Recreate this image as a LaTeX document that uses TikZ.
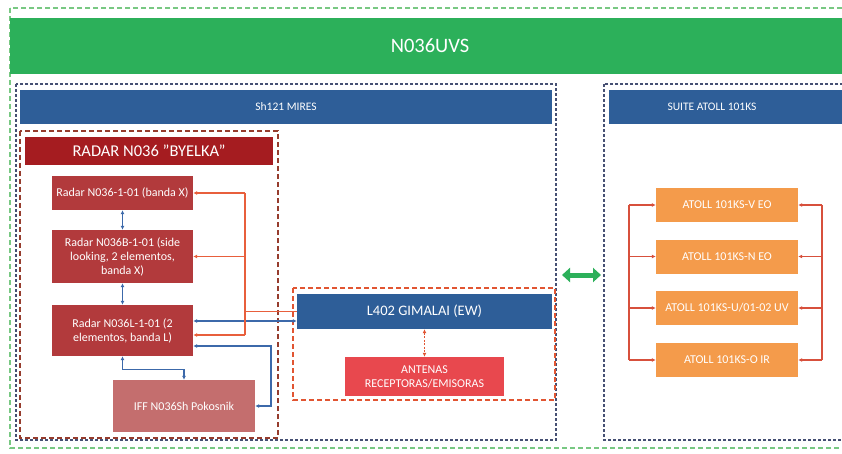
\documentclass[tikz,border=0pt]{standalone}
\usepackage{fontspec}
\setmainfont{Carlito}
\usetikzlibrary{arrows.meta}
\definecolor{gbar}{RGB}{44,176,90}
\definecolor{gdash}{RGB}{120,200,130}
\definecolor{bbar}{RGB}{46,94,152}
\definecolor{bdash}{RGB}{70,80,115}
\definecolor{dred}{RGB}{165,28,32}
\definecolor{rbox}{RGB}{178,58,60}
\definecolor{ibox}{RGB}{196,110,110}
\definecolor{abox}{RGB}{232,72,78}
\definecolor{obox}{RGB}{244,155,75}
\definecolor{oline}{RGB}{232,95,60}
\definecolor{bline}{RGB}{60,105,170}
\definecolor{rdash}{RGB}{150,60,45}
\definecolor{ldash}{RGB}{225,85,50}
\definecolor{aline}{RGB}{215,80,60}
\begin{document}
\begin{tikzpicture}[x=1pt,y=-1pt,
  box/.style={fill=#1, draw=none, text=white, align=center, inner sep=1pt},
  small/.style={font=\fontsize{12}{14}\selectfont},
  bdbl/.style={draw=bline, line width=1.2pt, {Latex[length=4pt,width=4pt]}-{Latex[length=4pt,width=4pt]}},
  oarr/.style={draw=oline, line width=1.1pt, -{Latex[length=4pt,width=4pt]}},
  oln/.style={draw=oline, line width=1.1pt},
  aarr/.style={draw=aline, line width=1.1pt, -{Latex[length=4pt,width=4pt]}},
  aln/.style={draw=aline, line width=1.1pt},
]
\useasboundingbox (0,0) rectangle (842,454);
\fill[white] (0,0) rectangle (842,454);
% outer frame
\draw[gdash, line width=1.6pt, dash pattern=on 5pt off 3pt] (10,8) rectangle (870,448);
\fill[gbar] (10,18) rectangle (870,74);
\node[text=white, font=\fontsize{20.5}{24}\selectfont] (title) at (430,46) {N036UVS};
% Sh121 frame
\draw[bdash, line width=1.3pt, dash pattern=on 3pt off 2pt] (16,84) rectangle (556,440);
\node[box=bbar, minimum width=532, minimum height=34, font=\fontsize{11.5}{14}\selectfont] (sh) at (286,107) {Sh121 MIRES};
% Suite frame
\draw[bdash, line width=1.3pt, dash pattern=on 3pt off 2pt] (604,84) rectangle (870,440);
\fill[bbar] (609,90) rectangle (870,124);
\node[text=white, font=\fontsize{11.5}{14}\selectfont] (suite) at (712,107) {SUITE ATOLL 101KS};
% radar frame
\draw[rdash, line width=1.8pt, dash pattern=on 5pt off 3pt] (20,131) rectangle (278,438);
\node[box=dred, minimum width=248, minimum height=28, font=\fontsize{16.5}{19}\selectfont] (rad) at (149,151) {RADAR N036 \symbol{34}BYELKA\symbol{34}};
\node[box=rbox, minimum width=141, minimum height=34, small] (r1) at (122.5,193) {Radar N036-1-01 (banda X)};
\node[box=rbox, minimum width=141, minimum height=53, small] (r2) at (122.5,256.5) {Radar N036B-1-01 (side\\looking, 2 elementos,\\banda X)};
\node[box=rbox, minimum width=141, minimum height=51, small] (r3) at (122.5,330.5) {Radar N036L-1-01 (2\\elementos, banda L)};
\node[box=ibox, minimum width=142, minimum height=52, small] (iff) at (184,406) {IFF N036Sh Pokosnik};
% L402 frame
\draw[ldash, line width=1.5pt, dash pattern=on 5pt off 3pt] (293,288) rectangle (555,400);
\node[box=bbar, minimum width=255, minimum height=35, font=\fontsize{14.5}{17}\selectfont] (l402) at (424.5,311.5) {L402 GIMALAI (EW)};
\node[box=abox, minimum width=159, minimum height=39, small] (ant) at (424.5,376.5) {ANTENAS\\RECEPTORAS/EMISORAS};
% atoll boxes
\node[box=obox, minimum width=142, minimum height=34, small] (a1) at (727,205) {ATOLL 101KS-V EO};
\node[box=obox, minimum width=142, minimum height=34, small] (a2) at (727,256.5) {ATOLL 101KS-N EO};
\node[box=obox, minimum width=142, minimum height=34, small] (a3) at (727,308) {ATOLL 101KS-U/01-02 UV};
\node[box=obox, minimum width=142, minimum height=34, small] (a4) at (727,360) {ATOLL 101KS-O IR};
% blue connectors
\draw[bdbl] (r1) -- (r2);
\draw[bdbl] (r2) -- (r3);
\draw[bdbl] (r3.south) -- ++(0,13) -| (iff.north);
\coordinate (bx) at (271,0);
\coordinate (b4) at ([yshift=-15.5pt]r3.east);
\draw[bdbl] (b4) -| (bx |- iff.east) -- (iff.east);
\coordinate (b3) at ([yshift=9.5pt]r3.east);
\draw[bdbl] (b3) -- (b3 -| l402.west);
% orange connectors
\coordinate (obus) at (245,0);
\coordinate (o3) at ([yshift=-4.5pt]r3.east);
\draw[oln] (obus |- r1.east) -- (obus |- o3);
\draw[oarr] (obus |- r1.east) -- (r1.east);
\draw[oarr] (obus |- r2.east) -- (r2.east);
\draw[oarr] (obus |- o3) -- (o3);
\draw[oln] (obus |- l402.west) -- (l402.west);
\draw[ldash, line width=1.1pt, dash pattern=on 2pt off 1.5pt, {Latex[length=4pt,width=4pt]}-{Latex[length=4pt,width=4pt]}] (l402) -- (ant);
% atoll connectors
\coordinate (al) at (629,0);
\coordinate (ar) at (822,0);
\draw[aln] (al |- a1.west) -- (al |- a4.west);
\draw[aln] (ar |- a1.east) -- (ar |- a4.east);
\foreach \n in {a1,a2,a3,a4}{
  \draw[aarr] (al |- \n.west) -- (\n.west);
  \draw[aarr] (ar |- \n.east) -- (\n.east);
}
% green double arrow
\coordinate (g1) at (562,275);
\coordinate (g2) at (601,275);
\draw[gbar, line width=5pt, {Triangle[length=8pt,width=14pt]}-{Triangle[length=8pt,width=14pt]}] (g1) -- (g2);
\end{tikzpicture}
\end{document}
